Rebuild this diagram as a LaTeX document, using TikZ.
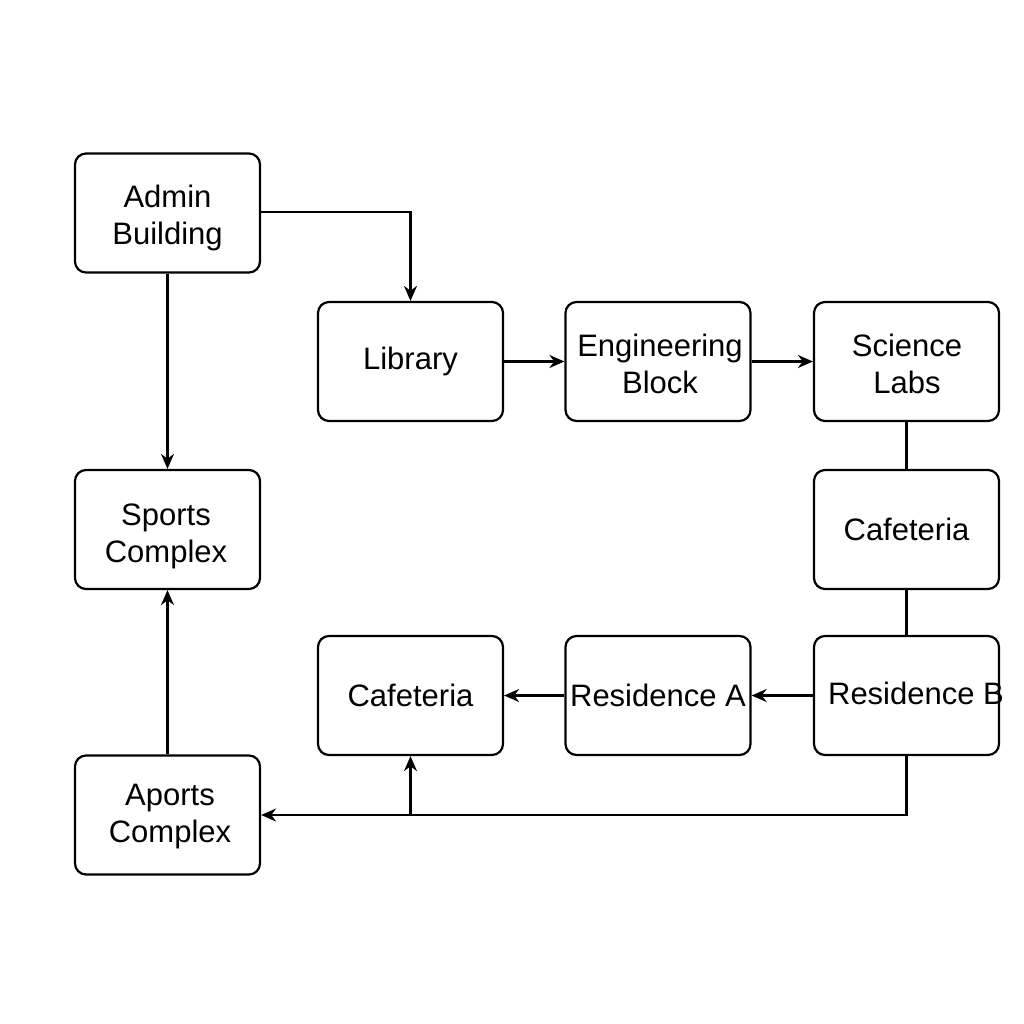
\documentclass[tikz,border=0pt]{standalone}
\usepackage{fontspec}
\setmainfont{Liberation Sans}
\usetikzlibrary{arrows.meta}
\begin{document}
\begin{tikzpicture}[x=1pt,y=-1pt,
  box/.style={draw, line width=2.2pt, rounded corners=11pt, minimum width=185pt, minimum height=119pt, align=center, font=\fontsize{31}{37}\selectfont, inner sep=0pt},
  two/.style={text depth=10pt},
  conn/.style={line width=2.2pt},
  arr/.style={conn, -{Stealth[length=15pt,width=13pt]}}]
\useasboundingbox (0,0) rectangle (1024,1024);
\fill[white] (0,0) rectangle (1024,1024);
\node[box] (admin) at (167.5,213) {};
\node[font=\fontsize{31}{37}\selectfont, align=center, inner sep=0pt] (admint) at (167.5,218) {Admin\\Building};
\node[box] (lib) at (410.5,361.5) {Library};
\node[box] (eng) at (658,361.5) {};
\node[font=\fontsize{31}{37}\selectfont, align=center, inner sep=0pt] (engt) at (660,364) {Engineering\\Block};
\node[box] (sci) at (906.5,361.5) {};
\node[font=\fontsize{31}{37}\selectfont, align=center, inner sep=0pt] (scit) at (907,364) {Science\\Labs};
\node[box] (sports) at (167.5,529.5) {};
\node[font=\fontsize{31}{37}\selectfont, align=center, inner sep=0pt] (sportst) at (166,536) {Sports\\Complex};
\node[box] (caf1) at (906.5,529.5) {Cafeteria};
\node[box] (caf2) at (410.5,695.5) {Cafeteria};
\node[box] (resa) at (658,695.5) {Residence A};
\node[box] (resb) at (906.5,695.5) {};
\node[font=\fontsize{31}{37}\selectfont, inner sep=0pt] (resbt) at (916,693) {Residence B};
\node[box] (aports) at (167.5,815) {};
\node[font=\fontsize{31}{37}\selectfont, align=center, inner sep=0pt] (aportst) at (170,817) {Aports\\Complex};
\coordinate (j) at (410.5,815);
\draw[arr] (admin.east |- 0,212) -| (lib.north);
\draw[arr] (admin.south) -- (sports.north);
\draw[arr] (lib.east) -- (eng.west);
\draw[arr] (eng.east) -- (sci.west);
\draw[conn] (sci.south) -- (caf1.north);
\draw[conn] (caf1.south) -- (resb.north);
\draw[arr] (resb.west) -- (resa.east);
\draw[arr] (resa.west) -- (caf2.east);
\draw[arr] (resb.south) |- (aports.east);
\draw[arr] (j) -- (caf2.south);
\draw[arr] (aports.north) -- (sports.south);
\end{tikzpicture}
\end{document}
